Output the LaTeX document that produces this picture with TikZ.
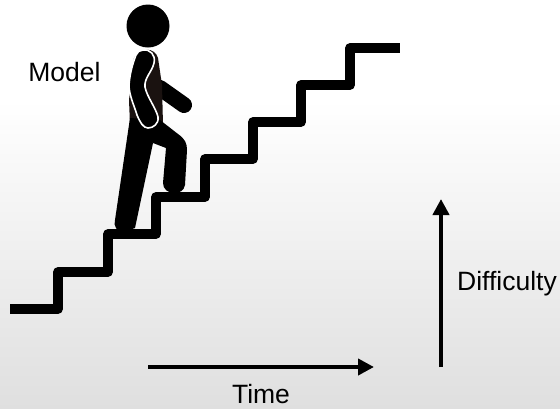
\documentclass[tikz,border=0pt]{standalone}
\usepackage{fontspec}
\setmainfont{Liberation Sans}
\usetikzlibrary{arrows.meta}
\definecolor{bgbot}{gray}{0.875}
\definecolor{torso}{HTML}{1A1210}
\tikzset{
  stair/.style={draw=black,line width=9.4pt,line join=round},
  limb/.style={draw=black,line cap=round,line join=round},
  axisarrow/.style={draw=black,line width=4.4pt,-{Triangle[length=16pt,width=16pt]}},
  lbl/.style={font=\fontsize{26.5}{28}\selectfont,text=black,inner sep=0pt}
}
\begin{document}
\begin{tikzpicture}[x=1pt,y=-1pt]
\useasboundingbox (0,0) rectangle (560,408);
\fill[white] (0,0) rectangle (560,100);
\shade[top color=white,bottom color=bgbot] (0,100) rectangle (560,408);
% stairs
\draw[stair] (10,309) -- (58,309) -- (58,272) -- (108,272) -- (108,234) -- (156,234) -- (156,197) -- (205,197) -- (205,159) -- (253,159) -- (253,122) -- (301,122) -- (301,85) -- (350,85) -- (350,48) -- (400,48);
% far arm
\draw[limb,line width=16pt] (160,88) -- (184,105);
% torso
\fill[torso] (134,58) .. controls (140,47) and (155,47) .. (158,58) -- (162,85) -- (163,125) -- (130,125) -- (129,100) -- cycle;
% rear leg
\fill[black] (130,118) -- (153,143) -- (135,228) -- (124,232) .. controls (117,232) and (113,226) .. (115,220) -- cycle;
% front leg
\fill[black] (130,118) -- (160,120) -- (178,134) .. controls (185,139) and (187,143) .. (187,150) -- (185,185) .. controls (184,191) and (179,193) .. (174,193) .. controls (168,193) and (163,189) .. (163,183) -- (166,148) -- (153,143) -- (140,135) -- cycle;
% head
\fill[black] (148,26) circle (21.5);
% near arm
\draw[white,fill=black,line width=1.6pt,line join=round] (143,50) .. controls (150,49) and (156,55) .. (154,63) .. controls (152,72) and (144,78) .. (145,87) .. controls (147,97) and (156,108) .. (158,117) .. controls (159,124) and (153,128) .. (148,128) .. controls (143,128) and (140,122) .. (137,115) .. controls (134,105) and (129,95) .. (129,85) .. controls (130,72) and (133,63) .. (136,55) .. controls (137,52) and (140,50) .. (143,50) -- cycle;
% axes
\coordinate (t0) at (148,367);
\coordinate (t1) at (374,367);
\coordinate (d0) at (441,367);
\coordinate (d1) at (441,199);
\draw[axisarrow] (t0) -- (t1);
\draw[axisarrow] (d0) -- (d1);
\node[lbl] (model) at (64.5,72) {Model};
\node[lbl] (diff) at (507,284) {Difficulty};
\node[lbl] (time) at (261,394) {Time};
\end{tikzpicture}
\end{document}
